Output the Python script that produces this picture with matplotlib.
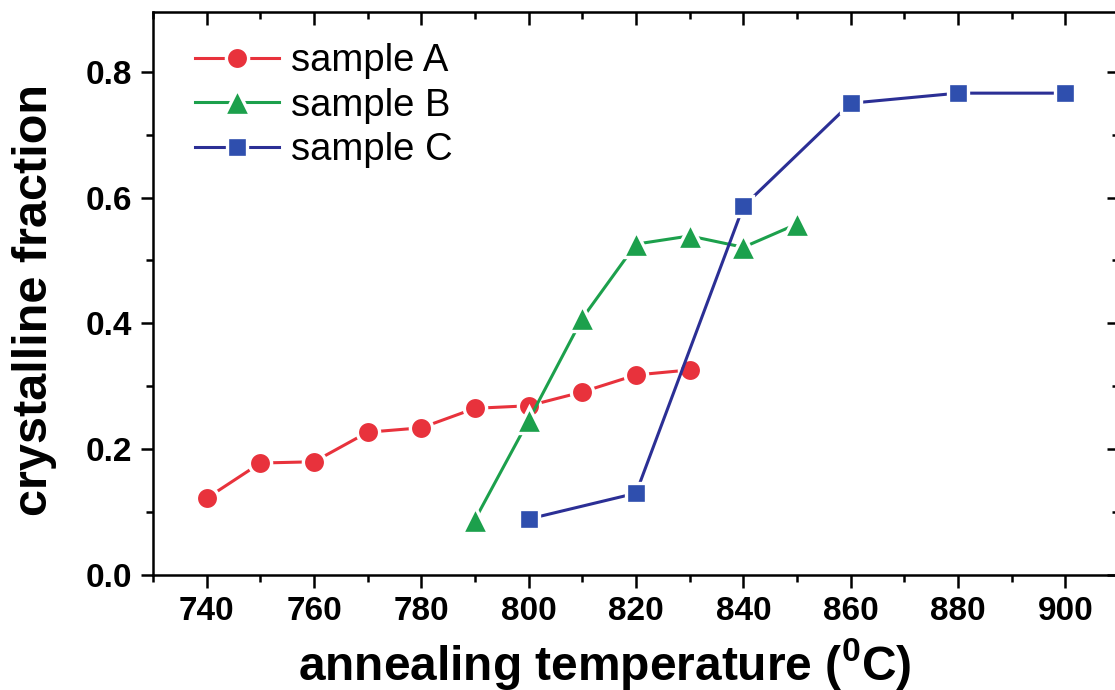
import matplotlib
matplotlib.use("Agg")
import matplotlib.pyplot as plt
from matplotlib.ticker import MultipleLocator

plt.rcParams['font.family'] = ['Liberation Sans', 'DejaVu Sans']
plt.rcParams['mathtext.fontset'] = 'custom'
plt.rcParams['mathtext.rm'] = 'Liberation Sans'
plt.rcParams['mathtext.bf'] = 'Liberation Sans:bold'

# data
temp_a = [740, 750, 760, 770, 780, 790, 800, 810, 820, 830]
frac_a = [0.122, 0.178, 0.180, 0.227, 0.234, 0.265, 0.269, 0.291, 0.318, 0.326]

temp_b = [790, 800, 810, 820, 830, 840, 850]
frac_b = [0.088, 0.246, 0.408, 0.526, 0.539, 0.521, 0.558]

temp_c = [800, 820, 840, 860, 880, 900]
frac_c = [0.089, 0.130, 0.586, 0.750, 0.766, 0.766]

fig = plt.figure(figsize=(11.15, 6.9), dpi=100)
ax = fig.add_axes([153 / 1115, 1 - 575 / 690, (1119 - 153) / 1115, (575 - 12) / 690])

ax.plot(temp_a, frac_a, '-o', color='#e8323c', lw=2.2, ms=16,
        mfc='#e8323c', mec='white', mew=2.4, label='sample A')
ax.plot(temp_b, frac_b, '-^', color='#1ca04c', lw=2.2, ms=19,
        mfc='#1ca04c', mec='white', mew=2.4, label='sample B')
ax.plot(temp_c, frac_c, '-s', color='#2b2f95', lw=2.2, ms=15,
        mfc='#2f4fae', mec='white', mew=2.4, label='sample C')

ax.set_xlim(730, 910)
ax.set_ylim(0, 0.895)
ax.xaxis.set_major_locator(MultipleLocator(20))
ax.xaxis.set_minor_locator(MultipleLocator(10))
ax.yaxis.set_major_locator(MultipleLocator(0.2))
ax.yaxis.set_minor_locator(MultipleLocator(0.1))
ax.yaxis.set_major_formatter(plt.FuncFormatter(lambda v, p: f'{v:.1f}'))

for s in ax.spines.values():
    s.set_linewidth(1.8)
ax.tick_params(which='both', direction='out', width=1.8, labelsize=24, pad=6)
ax.tick_params(which='major', length=9)
ax.tick_params(which='minor', length=5)
for lab in ax.get_xticklabels() + ax.get_yticklabels():
    lab.set_fontweight('bold')

# mirrored inward ticks on top and right
top = ax.secondary_xaxis('top')
top.xaxis.set_major_locator(MultipleLocator(20))
top.xaxis.set_minor_locator(MultipleLocator(10))
top.tick_params(which='both', direction='in', width=1.8, labeltop=False)
top.tick_params(which='major', length=9)
top.tick_params(which='minor', length=5)
right = ax.secondary_yaxis('right')
right.yaxis.set_major_locator(MultipleLocator(0.2))
right.yaxis.set_minor_locator(MultipleLocator(0.1))
right.tick_params(which='both', direction='in', width=1.8, labelright=False)
right.tick_params(which='major', length=9)
right.tick_params(which='minor', length=5)

ax.set_xlabel(r'annealing temperature ($\mathbf{^{0}}$C)', fontsize=34.5,
              fontweight='bold')
ax.set_ylabel('crystalline fraction', fontsize=35, fontweight='bold')
ax.xaxis.set_label_coords(0.468, -0.108)
ax.yaxis.set_label_coords(-0.099, 0.488)

ax.legend(loc='upper left', bbox_to_anchor=(0.02, 0.985), frameon=False,
          fontsize=27.5, handlelength=2.2, handletextpad=0.3, labelspacing=0.22,
          borderaxespad=0.2)

fig.savefig('out.png', dpi=100)
